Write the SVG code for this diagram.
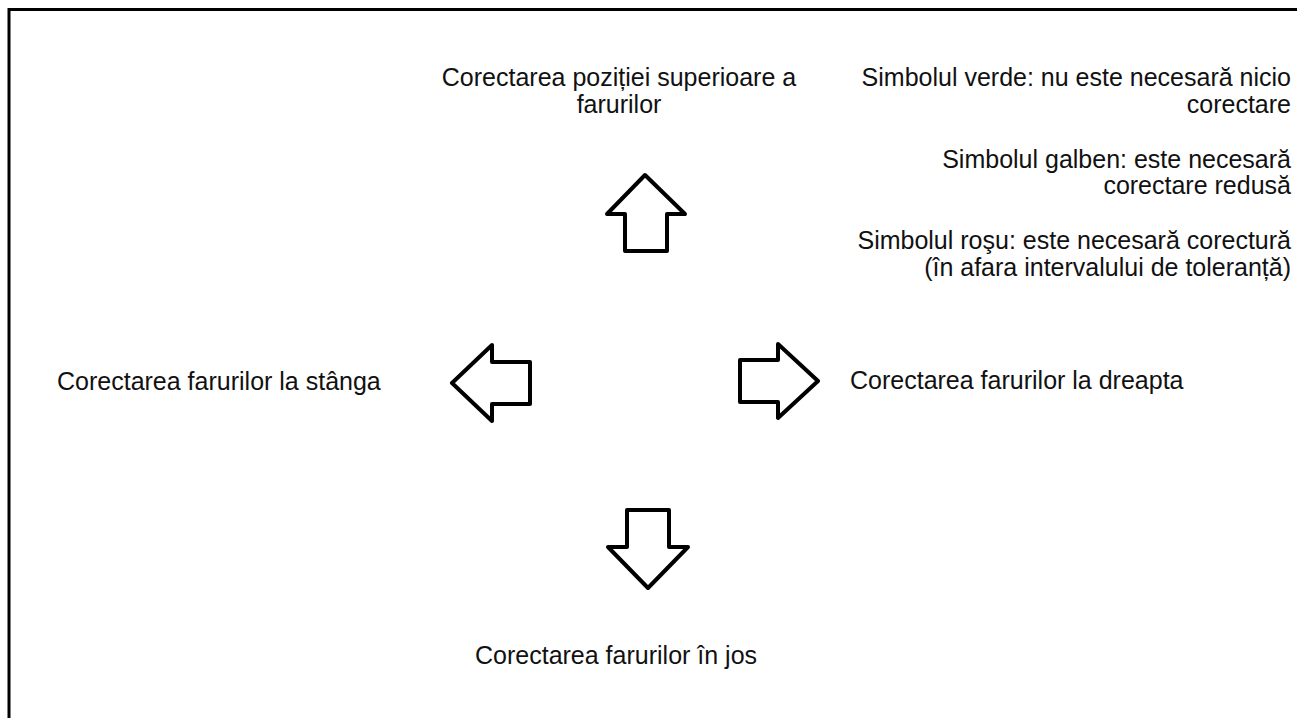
<svg xmlns="http://www.w3.org/2000/svg" width="1297" height="718" viewBox="0 0 1297 718">
<style>
text{font-family:"Liberation Sans",Arial,sans-serif;font-size:25px;fill:#111}
.arrow{fill:#fff;stroke:#000;stroke-width:4;stroke-linejoin:round}
.r{text-anchor:end}
.m{text-anchor:middle}
</style>
<rect width="1297" height="718" fill="#fff"/>
<path d="M9,718 V9.5 H1297" fill="none" stroke="#000" stroke-width="3"/>
<g id="arrow-up"><polygon class="arrow" points="645,175 685,214 667,214 667,251 625,251 625,214 607,214"/></g>
<g id="arrow-left"><polygon class="arrow" points="452,383 492,345 492,362 530,362 530,404 492,404 492,421"/></g>
<g id="arrow-right"><polygon class="arrow" points="740,360 778,360 778,344 818,381 778,418 778,402 740,402"/></g>
<g id="arrow-down"><polygon class="arrow" points="627,510 669,510 669,547 688,547 648,588 608,547 627,547"/></g>
<g id="label-up"><text class="m" x="619" y="86">Corectarea poziției superioare a</text><text class="m" x="619" y="113">farurilor</text></g>
<g id="label-left"><text x="57" y="390">Corectarea farurilor la stânga</text></g>
<g id="label-right"><text x="850" y="389">Corectarea farurilor la dreapta</text></g>
<g id="label-down"><text x="475" y="664">Corectarea farurilor în jos</text></g>
<g id="legend-green"><text class="r" x="1291" y="86">Simbolul verde: nu este necesară nicio</text><text class="r" x="1291" y="113">corectare</text></g>
<g id="legend-yellow"><text class="r" x="1291" y="168">Simbolul galben: este necesară</text><text class="r" x="1291" y="194">corectare redusă</text></g>
<g id="legend-red"><text class="r" x="1291" y="249">Simbolul roşu: este necesară corectură</text><text class="r" x="1291" y="276">(în afara intervalului de toleranță)</text></g>
</svg>
